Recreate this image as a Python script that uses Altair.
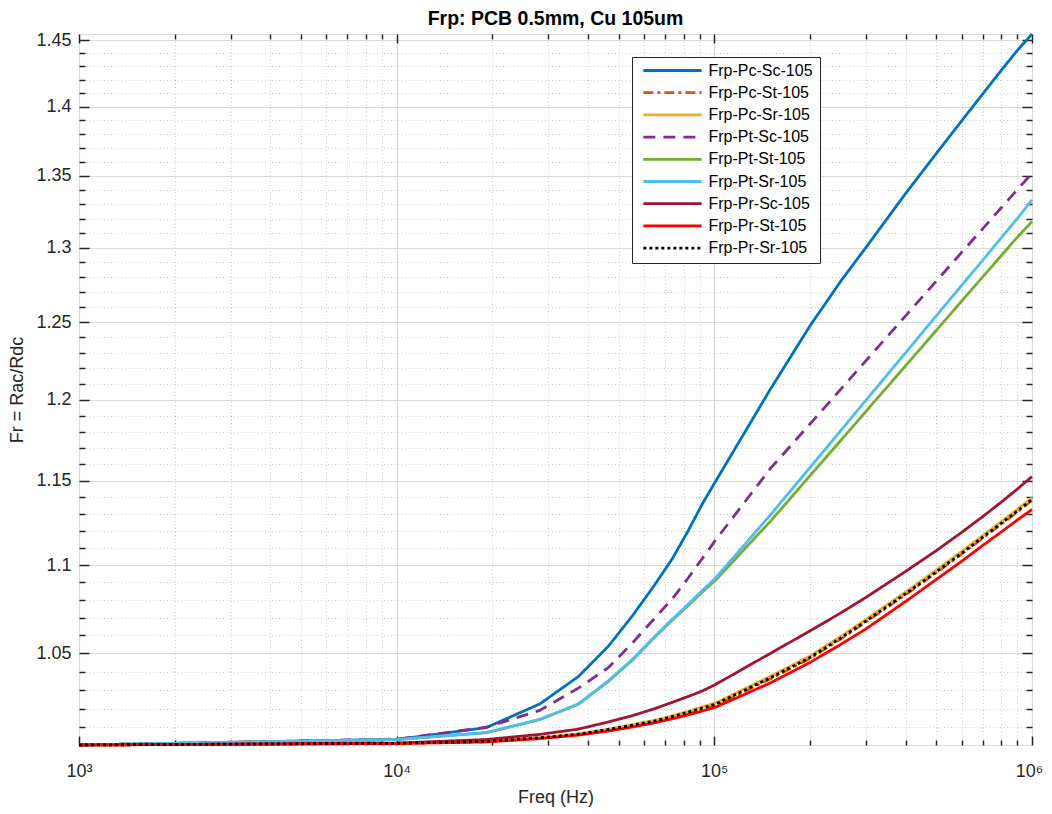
import altair as alt
import pandas as pd

# ---------------- data ----------------
FREQ = [1000, 10082, 19164, 28245, 37327, 46409, 55491, 64573, 73655, 82736, 91818, 100900,
        150000, 200000, 250000, 300000, 400000, 500000, 600000, 700000, 800000, 900000, 1000000]

NAMES = ["Frp-Pc-Sc-105", "Frp-Pc-St-105", "Frp-Pc-Sr-105",
         "Frp-Pt-Sc-105", "Frp-Pt-St-105", "Frp-Pt-Sr-105",
         "Frp-Pr-Sc-105", "Frp-Pr-St-105", "Frp-Pr-Sr-105"]

PC_SC = [1.0006, 1.0036, 1.0098, 1.0225, 1.0373, 1.0540, 1.0715, 1.0880, 1.1035, 1.1200, 1.1362, 1.1495,
         1.2065, 1.2475, 1.2772, 1.3000, 1.3375, 1.3660, 1.3895, 1.4095, 1.4270, 1.4422, 1.4546]
PC_ST = [1.0006, 1.0015, 1.0024, 1.0042, 1.0061, 1.0084, 1.0108, 1.0128, 1.0152, 1.0175, 1.0198, 1.0218,
         1.0360, 1.0472, 1.0580, 1.0675, 1.0830, 1.0956, 1.1063, 1.1157, 1.1239, 1.1312, 1.1381]
PC_SR = [1.0006, 1.0015, 1.0025, 1.0045, 1.0065, 1.0090, 1.0115, 1.0136, 1.0161, 1.0185, 1.0209, 1.0230,
         1.0374, 1.0486, 1.0594, 1.0689, 1.0845, 1.0971, 1.1078, 1.1172, 1.1254, 1.1327, 1.1396]
PT_SC = [1.0006, 1.0037, 1.0100, 1.0190, 1.0310, 1.0422, 1.0562, 1.0692, 1.0805, 1.0925, 1.1040, 1.1145,
         1.1572, 1.1847, 1.2066, 1.2248, 1.2541, 1.2773, 1.2966, 1.3130, 1.3275, 1.3403, 1.3518]
PT_ST = [1.0006, 1.0035, 1.0071, 1.0141, 1.0223, 1.0347, 1.0467, 1.0586, 1.0685, 1.0768, 1.0846, 1.0913,
         1.1255, 1.1529, 1.1745, 1.1926, 1.2216, 1.2446, 1.2638, 1.2801, 1.2944, 1.3072, 1.3179]
PT_SR = [1.0006, 1.0035, 1.0072, 1.0142, 1.0225, 1.0350, 1.0470, 1.0590, 1.0690, 1.0775, 1.0855, 1.0925,
         1.1293, 1.1579, 1.1806, 1.1996, 1.2300, 1.2542, 1.2743, 1.2914, 1.3067, 1.3201, 1.3331]
PR_SC = [1.0006, 1.0016, 1.0035, 1.0062, 1.0090, 1.0128, 1.0163, 1.0198, 1.0233, 1.0265, 1.0295, 1.0330,
         1.0500, 1.0625, 1.0726, 1.0814, 1.0963, 1.1084, 1.1190, 1.1284, 1.1370, 1.1449, 1.1524]
PR_ST = [1.0006, 1.0014, 1.0022, 1.0040, 1.0058, 1.0080, 1.0102, 1.0123, 1.0145, 1.0166, 1.0187, 1.0207,
         1.0338, 1.0450, 1.0550, 1.0636, 1.0791, 1.0917, 1.1021, 1.1114, 1.1193, 1.1264, 1.1326]
PR_SR = [1.0006, 1.0015, 1.0025, 1.0044, 1.0063, 1.0088, 1.0112, 1.0132, 1.0157, 1.0180, 1.0203, 1.0223,
         1.0366, 1.0477, 1.0585, 1.0680, 1.0835, 1.0961, 1.1068, 1.1162, 1.1244, 1.1317, 1.1386]

SERIES = [PC_SC, PC_ST, PC_SR, PT_SC, PT_ST, PT_SR, PR_SC, PR_ST, PR_SR]

COLORS = ["#0072BD", "#D95319", "#EDB120", "#7E2F8E", "#77AC30", "#4DBEEE",
          "#A2142F", "#FF0000", "#000000"]
DASHES = [[1, 0], [10, 4, 3, 4], [1, 0], [12, 8], [1, 0], [1, 0], [1, 0], [1, 0], [3, 3]]

X_MAJOR = [1000, 10000, 100000, 1000000]
X_MINOR = [k * 10 ** n for n in (3, 4, 5) for k in range(2, 10)]
Y_MAJOR = [1.05, 1.10, 1.15, 1.20, 1.25, 1.30, 1.35, 1.40, 1.45]
Y_MINOR = [round(1.01 + 0.01 * i, 2) for i in range(44) if round((1.01 + 0.01 * i) * 100) % 5 != 0]

X_DOMAIN = [1000, 1000000]
Y_DOMAIN = [1.0006, 1.4546]

rows = []
for order, (name, vals) in enumerate(zip(NAMES, SERIES)):
    for f, v in zip(FREQ, vals):
        rows.append({"series": name, "f": f, "v": v, "k": order})
df = pd.DataFrame(rows)

FONT = "Liberation Sans"
xs = alt.Scale(type="log", domain=X_DOMAIN, nice=False)
ys = alt.Scale(type="log", domain=Y_DOMAIN, nice=False, zero=False)

legend = alt.Legend(
    title=None, orient="none", legendX=553, legendY=23,
    symbolType="stroke", symbolSize=3400, symbolStrokeWidth=2.8,
    clipHeight=14, rowPadding=6.2, padding=6.5,
    labelFontSize=16, labelFont=FONT, labelColor="#000000", labelOffset=5,
    symbolOffset=3, fillColor="white", strokeColor="#262626",
)

lines = alt.Chart(df).mark_line(strokeWidth=2.8, strokeJoin="round").encode(
    x=alt.X("f:Q", scale=xs, axis=None),
    y=alt.Y("v:Q", scale=ys, axis=None),
    color=alt.Color("series:N", sort=NAMES,
                    scale=alt.Scale(domain=NAMES, range=COLORS), legend=legend),
    strokeDash=alt.StrokeDash("series:N", sort=NAMES,
                              scale=alt.Scale(domain=NAMES, range=DASHES), legend=legend),
    order=alt.Order("f:Q"),
)

label_expr = ("'10' + (datum.value == 1000 ? '\u00b3' : datum.value == 10000 ? '\u2074' : "
              "datum.value == 100000 ? '\u2075' : '\u2076')")

base = alt.Chart(df).mark_point(opacity=0, size=1)


def axis_layer(ax, ay):
    return base.encode(
        x=alt.X("f:Q", scale=xs, axis=ax),
        y=alt.Y("v:Q", scale=ys, axis=ay),
    )


TICK_COL = "#262626"
# major grid + labels + titles
l_major = axis_layer(
    alt.Axis(orient="bottom", values=X_MAJOR, grid=True, gridColor="#dadada", gridWidth=1.2,
             ticks=False, tickSize=0, domain=False, labelExpr=label_expr,
             labelFont=FONT, labelFontSize=18, labelColor=TICK_COL, labelPadding=17,
             labelOffset={"condition": {"test": "datum.value == 1000000", "value": -3}, "value": 0},
             labelFlush=False, title="Freq (Hz)", titleFont=FONT, titleFontSize=18,
             titleFontWeight="normal", titleColor=TICK_COL, titlePadding=8),
    alt.Axis(orient="left", values=Y_MAJOR, grid=True, gridColor="#dadada", gridWidth=1.2,
             ticks=False, tickSize=0, domain=False, format=".3~g",
             labelFont=FONT, labelFontSize=18, labelColor=TICK_COL, labelPadding=8,
             labelFlush=False, title="Fr = Rac/Rdc", titleFont=FONT, titleFontSize=18,
             titleFontWeight="normal", titleColor=TICK_COL, titlePadding=9),
)
# minor dotted grid
l_minor = axis_layer(
    alt.Axis(orient="bottom", values=X_MINOR, grid=True, gridColor="#cccccc", gridWidth=1,
             gridDash=[1, 2.5], ticks=False, labels=False, domain=False, title=None),
    alt.Axis(orient="left", values=Y_MINOR, grid=True, gridColor="#cccccc", gridWidth=1,
             gridDash=[1, 2.5], ticks=False, labels=False, domain=False, title=None),
)


def ticks_layer(xorient, yorient, xvals, yvals, xlen, ylen):
    return axis_layer(
        alt.Axis(orient=xorient, values=xvals, grid=False, labels=False, domain=False,
                 ticks=True, tickSize=xlen, offset=-xlen, tickColor=TICK_COL, tickWidth=1.5,
                 title=None),
        alt.Axis(orient=yorient, values=yvals, grid=False, labels=False, domain=False,
                 ticks=True, tickSize=ylen, offset=-ylen, tickColor=TICK_COL, tickWidth=1.5,
                 title=None),
    )


t1 = ticks_layer("bottom", "left", X_MAJOR, Y_MAJOR, 9, 10)
t2 = ticks_layer("bottom", "left", X_MINOR, Y_MINOR, 5, 6)
t3 = ticks_layer("top", "right", X_MAJOR, Y_MAJOR, 9, 10)
t4 = ticks_layer("top", "right", X_MINOR, Y_MINOR, 5, 6)

chart = alt.layer(l_minor, l_major, t1, t2, t3, t4, lines).resolve_axis(
    x="independent", y="independent"
).properties(
    width=953, height=711,
    autosize="none",
    padding={"left": 71, "top": 26, "right": 12, "bottom": 62},
    title=alt.TitleParams("Frp: PCB 0.5mm, Cu 105um", font=FONT, fontSize=19.5,
                          fontWeight="bold", color="#000000", anchor="middle", offset=2),
).configure_view(
    stroke="#262626", strokeWidth=1.5
).configure(background="white")

chart.save("out.html", embed_options={"renderer": "svg", "actions": False})
